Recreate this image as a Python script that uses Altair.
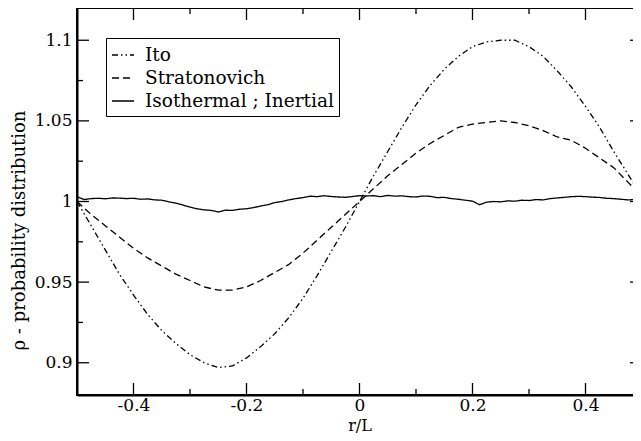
import altair as alt
import numpy as np
import pandas as pd

# ---- data ----
x_coarse = np.round(np.linspace(-0.5, 0.5, 41), 4)
ito = [1.000, 0.985, 0.970, 0.955, 0.942, 0.930, 0.920, 0.912, 0.905, 0.900,
       0.897, 0.898, 0.903, 0.910, 0.918, 0.928, 0.940, 0.954, 0.969, 0.984,
       1.000, 1.016, 1.031, 1.046, 1.060, 1.072, 1.082, 1.090, 1.096, 1.099,
       1.100, 1.100, 1.096, 1.090, 1.081, 1.071, 1.059, 1.046, 1.031, 1.017,
       1.003]
strat = [1.000, 0.992, 0.985, 0.978, 0.971, 0.965, 0.960, 0.955, 0.951, 0.947,
         0.945, 0.945, 0.947, 0.951, 0.956, 0.961, 0.968, 0.976, 0.984, 0.992,
         1.000, 1.008, 1.016, 1.023, 1.030, 1.036, 1.041, 1.046, 1.048, 1.049,
         1.050, 1.049, 1.047, 1.044, 1.040, 1.038, 1.033, 1.027, 1.021, 1.012,
         1.003]
x_fine = np.round(np.linspace(-0.5, 0.5, 81), 5)
iso = [1.0030, 1.0012, 1.0018, 1.0020, 1.0017, 1.0022, 1.0021, 1.0018, 1.0020, 1.0014,
       1.0016, 1.0010, 1.0008, 0.9998, 0.9990, 0.9978, 0.9965, 0.9955, 0.9948, 0.9945,
       0.9935, 0.9946, 0.9945, 0.9952, 0.9955, 0.9962, 0.9972, 0.9980, 0.9993, 1.0000,
       1.0010, 1.0018, 1.0024, 1.0033, 1.0030, 1.0036, 1.0031, 1.0028, 1.0026, 1.0031,
       1.0036, 1.0034, 1.0036, 1.0030, 1.0038, 1.0033, 1.0035, 1.0030, 1.0028, 1.0034,
       1.0032, 1.0024, 1.0026, 1.0018, 1.0014, 1.0008, 1.0002, 0.9980, 0.9996, 1.0000,
       0.9998, 1.0004, 1.0002, 1.0008, 1.0006, 1.0012, 1.0010, 1.0018, 1.0022, 1.0026,
       1.0030, 1.0032, 1.0030, 1.0027, 1.0025, 1.0020, 1.0018, 1.0014, 1.0010, 1.0012,
       1.0020]

series_names = ["Ito", "Stratonovich", "Isothermal ; Inertial"]
x_major = [-0.4, -0.2, 0, 0.2, 0.4]
x_minor = [-0.3, -0.1, 0.1, 0.3]
y_major = [0.9, 0.95, 1.0, 1.05, 1.1]
y_minor = [0.925, 0.975, 1.025, 1.075]

df = pd.concat([
    pd.DataFrame({"r": x_coarse, "rho": ito, "series": series_names[0]}),
    pd.DataFrame({"r": x_coarse, "rho": strat, "series": series_names[1]}),
    pd.DataFrame({"r": x_fine, "rho": iso, "series": series_names[2]}),
], ignore_index=True)

W, H = 565, 387
FONT = "DejaVu Serif"

xscale = alt.Scale(domain=[-0.5, 0.5], nice=False, zero=False)
yscale = alt.Scale(domain=[0.88, 1.12], nice=False, zero=False)

xaxis = alt.Axis(values=x_major, title="r/L", ticks=False, grid=False,
                 labelExpr="toString(datum.value)", labelFont=FONT, labelFontSize=17,
                 labelColor="black", labelPadding=2, titleFont=FONT, titleFontSize=16,
                 titleFontWeight="normal", titleColor="black",
                 titleBaseline="alphabetic", titleY=35,
                 domainColor="black", domainWidth=2)
yaxis = alt.Axis(values=y_major, title="ρ - probability distribution", ticks=False, grid=False,
                 labelExpr="toString(datum.value)", labelFont=FONT, labelFontSize=17,
                 labelColor="black", labelPadding=5, titleFont=FONT, titleFontSize=18,
                 titleFontWeight="normal", titleColor="black", titlePadding=6,
                 titleY=222,
                 domainColor="black", domainWidth=2)

lines = alt.Chart(df).mark_line(color="black", strokeWidth=1.3).encode(
    x=alt.X("r:Q", scale=xscale, axis=xaxis),
    y=alt.Y("rho:Q", scale=yscale, axis=yaxis),
    strokeDash=alt.StrokeDash(
        "series:N",
        scale=alt.Scale(domain=series_names, range=[[6, 3, 1.5, 3, 1.5, 3], [7, 4], [1, 0]]),
        legend=alt.Legend(title=None, orient="none", legendX=29, legendY=30,
                          strokeColor="black", fillColor="white", padding=5,
                          labelFont=FONT, labelFontSize=18.5, labelColor="black",
                          labelOffset=10, symbolType="stroke", symbolStrokeColor="black",
                          symbolStrokeWidth=1.3, symbolSize=484, rowPadding=1,
                          labelLimit=400),
    ),
    detail="series:N",
)

def xticks(vals, y0, y1):
    d = pd.DataFrame({"v": vals})
    return alt.Chart(d).mark_rule(color="black", strokeWidth=1.3).encode(
        x=alt.X("v:Q", scale=xscale), y=alt.value(y0), y2=alt.value(y1))

def yticks(vals, x0, x1):
    d = pd.DataFrame({"v": vals})
    return alt.Chart(d).mark_rule(color="black", strokeWidth=1.3).encode(
        y=alt.Y("v:Q", scale=yscale), x=alt.value(x0), x2=alt.value(x1))

chart = alt.layer(
    lines,
    xticks(x_major, H, H - 12), xticks(x_minor, H, H - 6),
    xticks(x_major, 0, 12), xticks(x_minor, 0, 6),
    yticks(y_major, 0, 12), yticks(y_minor, 0, 6),
    yticks(y_major, W, W - 12), yticks(y_minor, W, W - 6),
).properties(
    width=W, height=H,
    autosize=alt.AutoSizeParams(type="none"),
    padding={"left": 69, "top": 0, "right": -9, "bottom": 38},
    background="white",
).configure_view(stroke="black", strokeWidth=2)

chart.save("out.html", embed_options={"renderer": "svg", "actions": False})
